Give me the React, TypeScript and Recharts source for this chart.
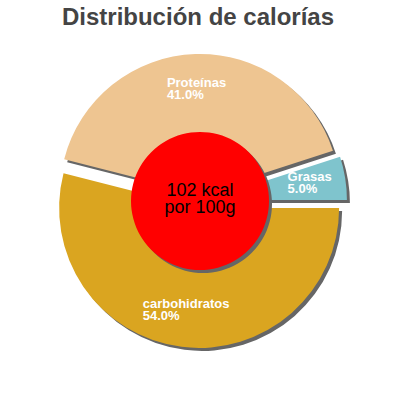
import React from 'react';
import { PieChart, Pie, Cell, Sector } from 'recharts';

const categories = ['Grasas', 'Proteínas', 'carbohidratos'];
const shares = [5, 41, 54];
const colors = ['#7fc4cd', '#eec591', '#daa520'];
const energyValues = [102];
const centerLines = ['102 kcal', 'por 100g'];

const data = categories.map((name, i) => ({ name, value: shares[i] }));
const centerData = energyValues.map((value) => ({ name: 'kcal', value }));

const RAD = Math.PI / 180;
const EXPLODE = 7;
const SHADOW = 3;
const SHADOW_COLOR = '#666666';
const LABEL_FONT = 'bold 13px "Liberation Sans", Arial, sans-serif';

const shift = (mid: number, d: number) => ({
  dx: d * Math.cos(-mid * RAD),
  dy: d * Math.sin(-mid * RAD),
});

let ctx: CanvasRenderingContext2D | null = null;
const measure = (t: string) => {
  if (!ctx) ctx = document.createElement('canvas').getContext('2d');
  ctx!.font = LABEL_FONT;
  return ctx!.measureText(t).width;
};

// slice pulled out along its middle angle, optionally offset for the shadow
const explodedShape = (offset: number, explode: number) => (p: any) => {
  const { dx, dy } = shift(p.midAngle, explode);
  return (
    <Sector
      cx={p.cx + dx + offset}
      cy={p.cy + dy + offset}
      innerRadius={p.innerRadius}
      outerRadius={p.outerRadius}
      startAngle={p.startAngle}
      endAngle={p.endAngle}
      fill={offset ? SHADOW_COLOR : p.fill}
    />
  );
};

const renderLabel = (p: any) => {
  const { dx, dy } = shift(p.midAngle, EXPLODE + 104);
  const x = p.cx + dx;
  const y = p.cy + dy;
  const lines = [p.name, (p.percent * 100).toFixed(1) + '%'];
  const w = Math.max(...lines.map(measure));
  return (
    <text x={x - w / 2} y={y - 3} fill="#ffffff" style={{ font: LABEL_FONT }}>
      {lines.map((l, i) => (
        <tspan key={i} x={x - w / 2} dy={i === 0 ? 0 : 12}>
          {l}
        </tspan>
      ))}
    </text>
  );
};

const renderCenter = (p: any) => (
  <text
    x={p.cx}
    y={p.cy - 5}
    textAnchor="middle"
    fill="#000000"
    style={{ font: '18px "Liberation Sans", Arial, sans-serif' }}
  >
    {centerLines.map((l, i) => (
      <tspan key={i} x={p.cx} dy={i === 0 ? 0 : 17}>
        {l}
      </tspan>
    ))}
  </text>
);

export default function App() {
  return (
    <div style={{ position: 'absolute', left: 0, top: 0, width: 400, height: 400, background: '#fff' }}>
      <div
        style={{
          position: 'absolute',
          top: 5,
          left: 0,
          width: 396,
          textAlign: 'center',
          font: 'bold 24px "Liberation Sans", Arial, sans-serif',
          lineHeight: '24px',
          color: '#444444',
        }}
      >
        Distribución de calorías
      </div>
      <PieChart width={400} height={400} margin={{ top: 0, right: 0, bottom: 0, left: 0 }}>
        <Pie
          data={data}
          dataKey="value"
          nameKey="name"
          cx={200}
          cy={201}
          innerRadius={50}
          outerRadius={140}
          stroke="none"
          isAnimationActive={false}
          shape={explodedShape(SHADOW, EXPLODE)}
        />
        <Pie
          data={data}
          dataKey="value"
          nameKey="name"
          cx={200}
          cy={201}
          innerRadius={50}
          outerRadius={140}
          stroke="none"
          isAnimationActive={false}
          shape={explodedShape(0, EXPLODE)}
          label={renderLabel}
          labelLine={false}
        >
          {data.map((d, i) => (
            <Cell key={d.name} fill={colors[i]} />
          ))}
        </Pie>
        <Pie
          data={centerData}
          dataKey="value"
          cx={200}
          cy={201}
          innerRadius={0}
          outerRadius={69}
          stroke="none"
          isAnimationActive={false}
          shape={explodedShape(SHADOW, 0)}
        />
        <Pie
          data={centerData}
          dataKey="value"
          cx={200}
          cy={201}
          innerRadius={0}
          outerRadius={69}
          stroke="none"
          fill="#ff0000"
          isAnimationActive={false}
          label={renderCenter}
          labelLine={false}
        />
      </PieChart>
    </div>
  );
}
